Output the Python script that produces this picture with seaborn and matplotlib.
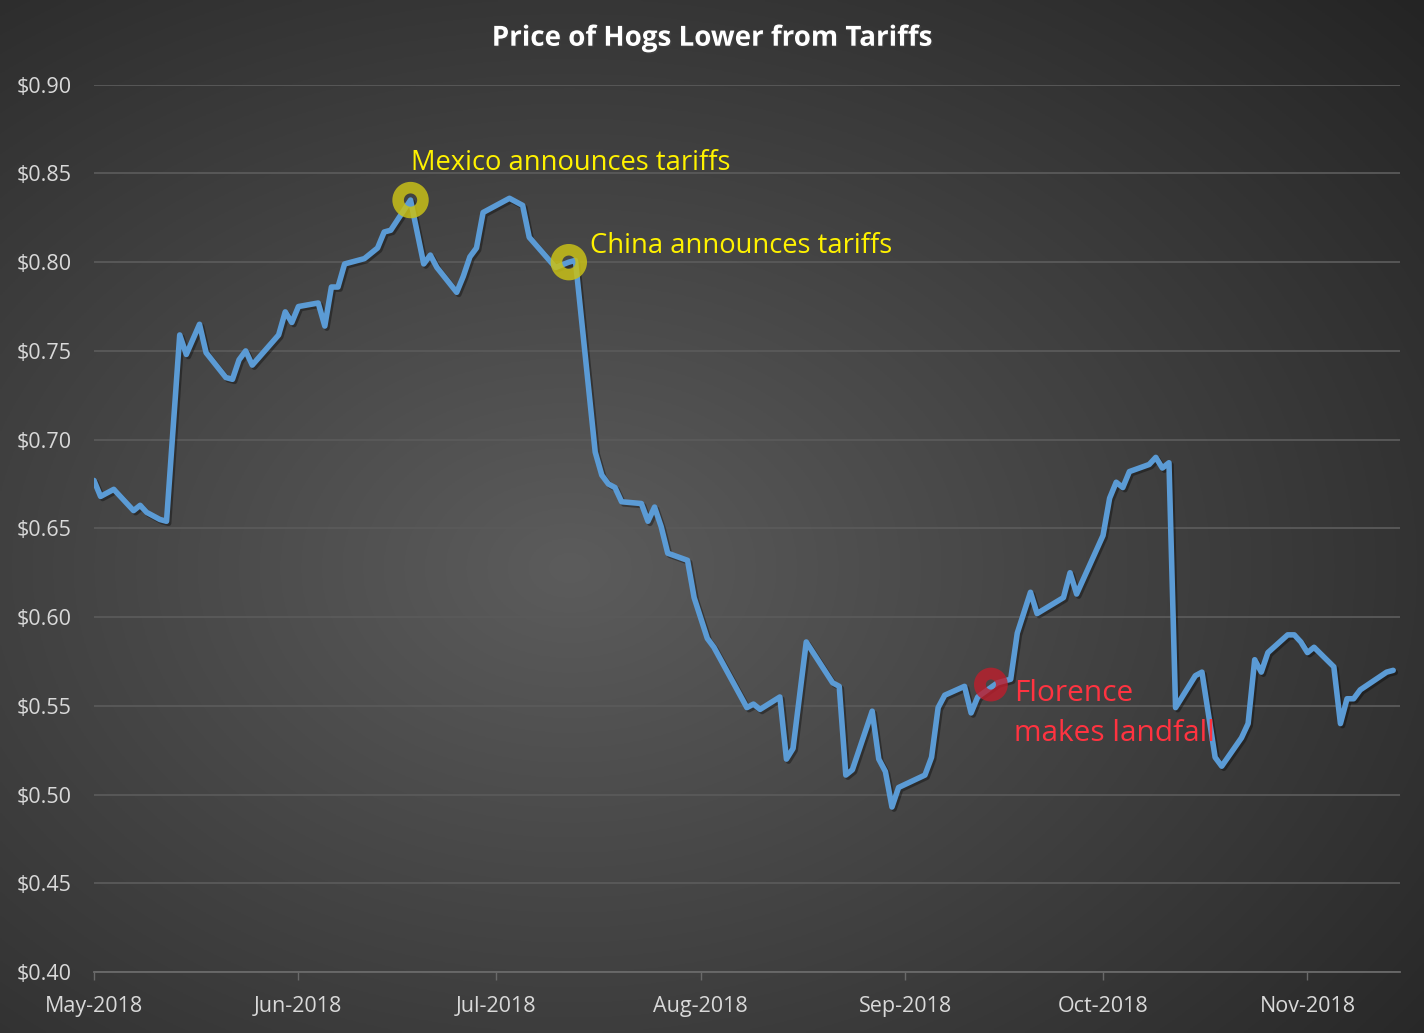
import numpy as np
import pandas as pd
import matplotlib
matplotlib.use("Agg")
import matplotlib.pyplot as plt
import matplotlib.dates as mdates
import matplotlib.patheffects as pe
import seaborn as sns
from matplotlib.ticker import FuncFormatter

# --------------------------------------------------
# Data
# --------------------------------------------------
dates = [
    "2018-05-01", "2018-05-02", "2018-05-04", "2018-05-07", "2018-05-08", "2018-05-09",
    "2018-05-11", "2018-05-12", "2018-05-14", "2018-05-15", "2018-05-17", "2018-05-18",
    "2018-05-21", "2018-05-22", "2018-05-23", "2018-05-24", "2018-05-25", "2018-05-29",
    "2018-05-30", "2018-05-31", "2018-06-01", "2018-06-04", "2018-06-05", "2018-06-06",
    "2018-06-07", "2018-06-08", "2018-06-11", "2018-06-13", "2018-06-14", "2018-06-15",
    "2018-06-18", "2018-06-20", "2018-06-21", "2018-06-22", "2018-06-25", "2018-06-26",
    "2018-06-27", "2018-06-28", "2018-06-29", "2018-07-03", "2018-07-05", "2018-07-06",
    "2018-07-10", "2018-07-12", "2018-07-13", "2018-07-16", "2018-07-17", "2018-07-18",
    "2018-07-19", "2018-07-20", "2018-07-23", "2018-07-24", "2018-07-25", "2018-07-26",
    "2018-07-27", "2018-07-30", "2018-07-31", "2018-08-02", "2018-08-03", "2018-08-08",
    "2018-08-09", "2018-08-10", "2018-08-13", "2018-08-14", "2018-08-15", "2018-08-17",
    "2018-08-21", "2018-08-22", "2018-08-23", "2018-08-24", "2018-08-27", "2018-08-28",
    "2018-08-29", "2018-08-30", "2018-08-31", "2018-09-04", "2018-09-05", "2018-09-06",
    "2018-09-07", "2018-09-10", "2018-09-11", "2018-09-12", "2018-09-15", "2018-09-17",
    "2018-09-18", "2018-09-20", "2018-09-21", "2018-09-25", "2018-09-26", "2018-09-27",
    "2018-10-01", "2018-10-02", "2018-10-03", "2018-10-04", "2018-10-05", "2018-10-08",
    "2018-10-09", "2018-10-10", "2018-10-11", "2018-10-12", "2018-10-15", "2018-10-16",
    "2018-10-18", "2018-10-19", "2018-10-22", "2018-10-23", "2018-10-24", "2018-10-25",
    "2018-10-26", "2018-10-29", "2018-10-30", "2018-10-31", "2018-11-01", "2018-11-02",
    "2018-11-05", "2018-11-06", "2018-11-07", "2018-11-08", "2018-11-09", "2018-11-13",
    "2018-11-14",
]
prices = [
    0.677, 0.668, 0.672, 0.660, 0.663, 0.659,
    0.655, 0.654, 0.759, 0.748, 0.765, 0.749,
    0.735, 0.734, 0.745, 0.750, 0.742, 0.759,
    0.772, 0.766, 0.775, 0.777, 0.764, 0.786,
    0.786, 0.799, 0.802, 0.808, 0.817, 0.818,
    0.835, 0.799, 0.804, 0.797, 0.783, 0.792,
    0.803, 0.808, 0.828, 0.836, 0.832, 0.814,
    0.797, 0.800, 0.801, 0.693, 0.680, 0.675,
    0.673, 0.665, 0.664, 0.654, 0.662, 0.651,
    0.636, 0.632, 0.611, 0.588, 0.583, 0.549,
    0.551, 0.548, 0.555, 0.520, 0.526, 0.586,
    0.563, 0.561, 0.511, 0.514, 0.547, 0.520,
    0.513, 0.493, 0.504, 0.511, 0.521, 0.549,
    0.556, 0.561, 0.546, 0.555, 0.563, 0.565,
    0.591, 0.614, 0.602, 0.611, 0.625, 0.613,
    0.646, 0.667, 0.676, 0.673, 0.682, 0.686,
    0.690, 0.684, 0.687, 0.549, 0.567, 0.569,
    0.521, 0.516, 0.532, 0.540, 0.576, 0.569,
    0.580, 0.590, 0.590, 0.586, 0.580, 0.583,
    0.572, 0.540, 0.554, 0.554, 0.559, 0.569,
    0.570,
]

# annotated events
event_labels = ["Mexico announces tariffs", "China announces tariffs", "Florence\nmakes landfall"]
event_dates = ["2018-06-18", "2018-07-12", "2018-09-14"]
event_values = [0.835, 0.800, 0.562]

y_ticks = [0.40, 0.45, 0.50, 0.55, 0.60, 0.65, 0.70, 0.75, 0.80, 0.85, 0.90]
month_ticks = ["2018-05-01", "2018-06-01", "2018-07-01", "2018-08-01",
               "2018-09-01", "2018-10-01", "2018-11-01"]

df = pd.DataFrame({"date": pd.to_datetime(dates), "price": prices})

# --------------------------------------------------
# Styling
# --------------------------------------------------
sns.set_style("dark")
plt.rcParams["font.family"] = ["Open Sans", "DejaVu Sans"]

fig = plt.figure(figsize=(14.24, 10.33), dpi=100)

# radial gradient background
bg_ax = fig.add_axes([0, 0, 1, 1], zorder=0)
yy, xx = np.mgrid[0:1:400j, 0:1:560j]
r = np.sqrt(((xx - 0.40) / 0.75) ** 2 + ((yy - 0.55) / 0.75) ** 2)
r = np.clip(r / r.max(), 0, 1)
inner = np.array([0x5c, 0x5c, 0x5c]) / 255
outer = np.array([0x24, 0x24, 0x24]) / 255
img = inner[None, None, :] * (1 - r[..., None]) + outer[None, None, :] * r[..., None]
bg_ax.imshow(img, aspect="auto", extent=[0, 1, 0, 1], origin="upper")
bg_ax.axis("off")

ax = fig.add_axes([0.066, 0.059, 0.917, 0.859], zorder=1)
ax.patch.set_alpha(0)

sns.lineplot(data=df, x="date", y="price", ax=ax, color="#5B9BD5", linewidth=4.0,
             solid_joinstyle="round", solid_capstyle="round",
             path_effects=[pe.SimpleLineShadow(offset=(1.5, -1.5), shadow_color="black", alpha=0.35),
                           pe.Normal()])

# event markers
ring_colors = ["#C8C018", "#C8C018", "#BE1E2C"]
text_colors = ["#FFF200", "#FFF200", "#FF3340"]
ev_dates = pd.to_datetime(event_dates)
ax.scatter(ev_dates[:2], event_values[:2], s=320, facecolors="none",
           edgecolors=ring_colors[:2], linewidths=8.3, alpha=0.85, zorder=5)
ax.scatter(ev_dates[2:], event_values[2:], s=250, facecolors="none",
           edgecolors=ring_colors[2:], linewidths=8.5, alpha=0.8, zorder=5)

ax.annotate(event_labels[0], (ev_dates[0], event_values[0]), xytext=(0, 27),
            textcoords="offset points", color=text_colors[0], fontsize=19.7,
            ha="left", va="center")
ax.annotate(event_labels[1], (ev_dates[1], event_values[1]), xytext=(15, 12),
            textcoords="offset points", color=text_colors[1], fontsize=19.7,
            ha="left", va="center")
ax.annotate(event_labels[2], (ev_dates[2], event_values[2]), xytext=(16.5, -21),
            textcoords="offset points", color=text_colors[2], fontsize=21.5,
            ha="left", va="center", linespacing=1.5)

# axes
ax.set_ylim(0.40, 0.90)
ax.set_xlim(pd.Timestamp("2018-05-01"), pd.Timestamp("2018-11-15"))
ax.set_yticks(y_ticks)
ax.yaxis.set_major_formatter(FuncFormatter(lambda v, p: f"${v:.2f}"))
ax.set_xticks(pd.to_datetime(month_ticks))
ax.xaxis.set_major_formatter(mdates.DateFormatter("%b-%Y"))
ax.set_xlabel("")
ax.set_ylabel("")

ax.grid(axis="y", color="#5a5a5a", linewidth=1.3)
ax.grid(axis="x", visible=False)
for s in ["left", "right", "top"]:
    ax.spines[s].set_visible(False)
ax.spines["bottom"].set_color("#6a6a6a")
ax.spines["bottom"].set_linewidth(1.3)

ax.tick_params(axis="y", length=0, pad=16, labelsize=15.5, labelcolor="#d9d9d9")
ax.tick_params(axis="x", length=6, width=1, color="#6a6a6a", direction="out",
               pad=11, labelsize=15.5, labelcolor="#d9d9d9", bottom=True)

fig.text(0.5, 0.963, "Price of Hogs Lower from Tariffs", ha="center", va="center",
         color="white", fontsize=20, fontweight="bold",
         path_effects=[pe.withSimplePatchShadow(offset=(1, -1), alpha=0.4)])

plt.savefig("out.png", dpi=100)
